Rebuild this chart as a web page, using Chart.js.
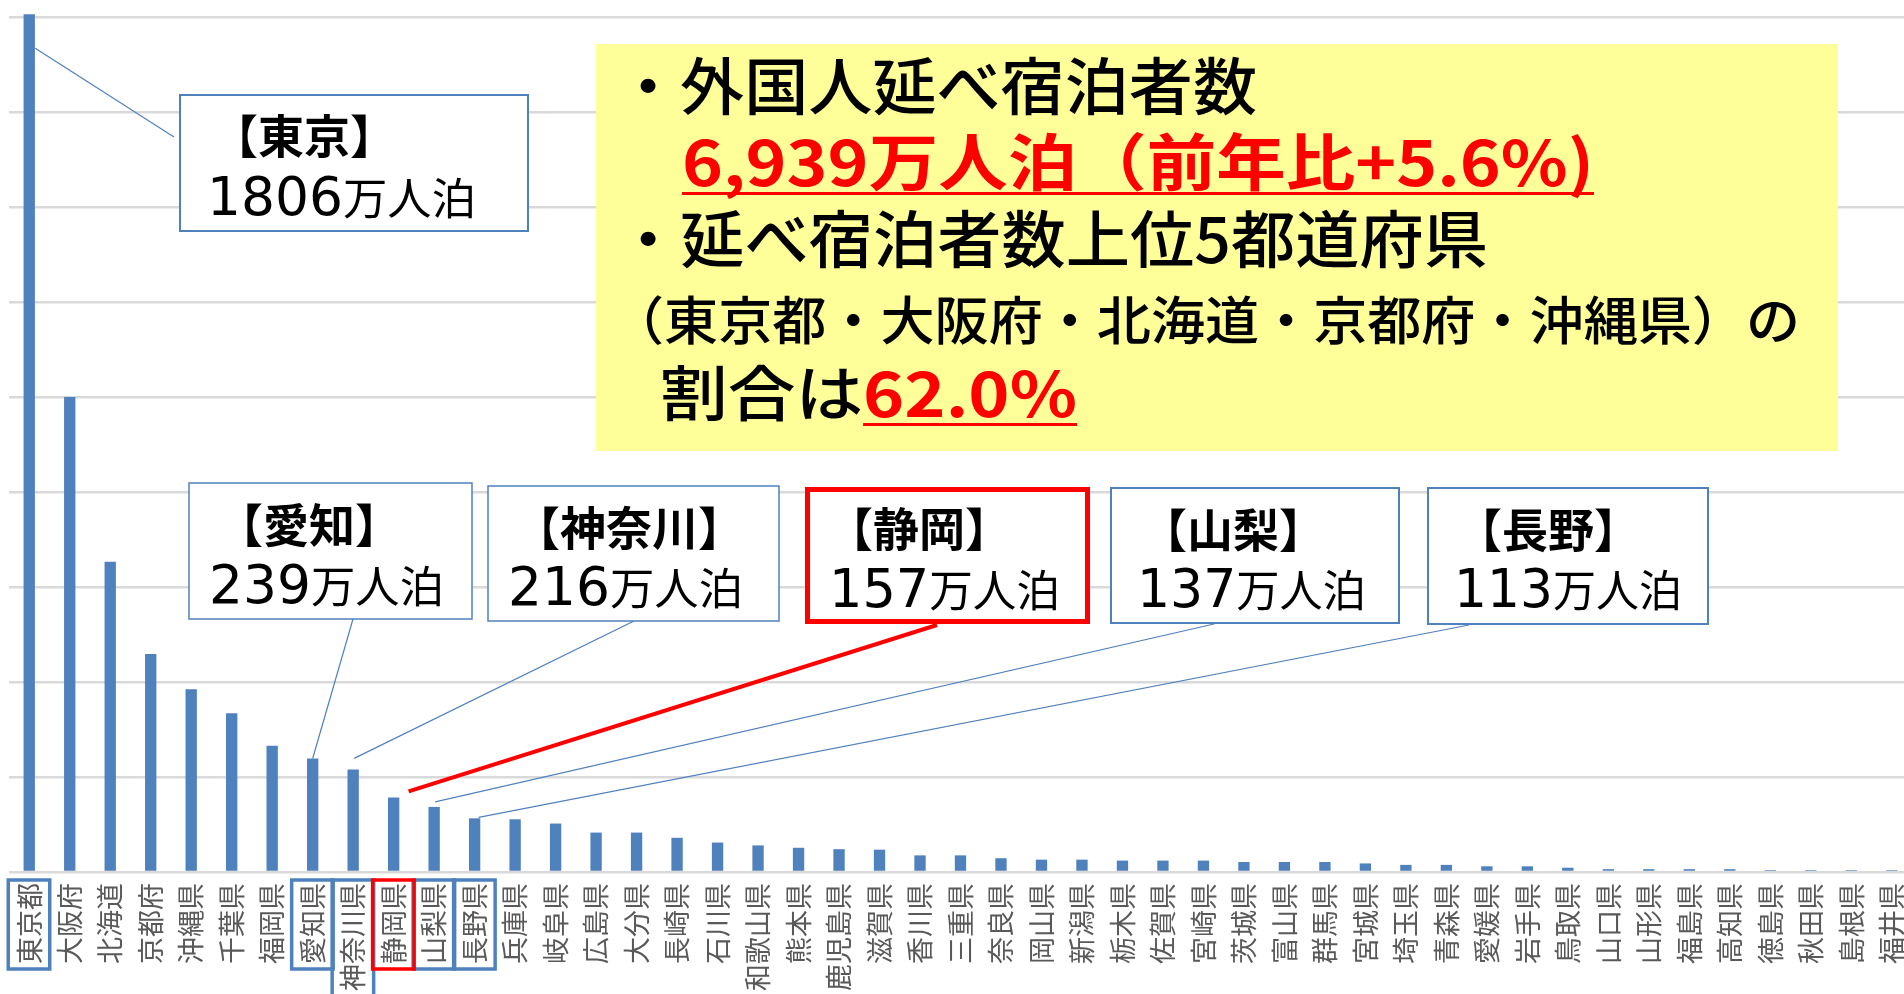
<!DOCTYPE html>
<html>
<head>
<meta charset="utf-8">
<script src="https://cdn.jsdelivr.net/npm/chart.js@4.4.1/dist/chart.umd.min.js"></script>
<style>
  html, body { margin: 0; padding: 0; background: #fff; overflow: hidden; }
  #wrap { width: 1920px; height: 994px; }
</style>
</head>
<body>
<div id="wrap"><canvas id="chart" width="1920" height="994"></canvas></div>
<script>
// 都道府県別 外国人延べ宿泊者数（万人泊）
const prefectures = [
  '東京都', '大阪府', '北海道', '京都府', '沖縄県', '千葉県', '福岡県', '愛知県', '神奈川県', '静岡県',
  '山梨県', '長野県', '兵庫県', '岐阜県', '広島県', '大分県', '長崎県', '石川県', '和歌山県', '熊本県',
  '鹿児島県', '滋賀県', '香川県', '三重県', '奈良県', '岡山県', '新潟県', '栃木県', '佐賀県', '宮崎県',
  '茨城県', '富山県', '群馬県', '宮城県', '埼玉県', '青森県', '愛媛県', '岩手県', '鳥取県', '山口県',
  '山形県', '福島県', '高知県', '徳島県', '秋田県', '島根県', '福井県'
];
const guests = [
  1806, 1000, 653, 459, 385, 334, 266, 239, 216, 157,
  137, 113, 111, 102, 83, 83, 72, 62, 56, 51,
  48, 47, 35, 35, 29, 26, 26, 24, 24, 24,
  21, 21, 21, 18, 15, 15, 12, 12, 9, 6,
  6, 6, 6, 4, 4, 4, 4
];
const yMax = 1800;
const yStep = 200;

const BLUE = '#4F81BD';
const RED = '#FF0000';
const JP = '"Noto Sans CJK JP", "Noto Sans CJK SC", sans-serif';
const labelFontSize = 27;

// 下の軸ラベルを囲む枠
const labelBoxes = [
  { idx: 0, color: BLUE }, { idx: 7, color: BLUE }, { idx: 8, color: BLUE },
  { idx: 10, color: BLUE }, { idx: 11, color: BLUE }, { idx: 9, color: RED }
];

// 吹き出し
const callouts = [
  { idx: 0, title: '【東京】', num: '1806', box: [180, 95, 348, 136], titleX: 212, titleY: 136, numX: 207, numW: 269, numBase: 215, from: [174, 137], tip: [6, 34], color: BLUE, lw: 2, leaderW: 1.2 },
  { idx: 7, title: '【愛知】', num: '239', box: [189, 483, 283, 136], titleX: 217, titleY: 525, numX: 209, numW: 235, numBase: 603, from: [353, 619], tip: [0, 0], color: BLUE, lw: 1.5, leaderW: 1.2 },
  { idx: 8, title: '【神奈川】', num: '216', box: [488, 486, 291, 135], titleX: 514, titleY: 528, numX: 508, numW: 235, numBase: 605, from: [634, 621], tip: [1, -11], color: BLUE, lw: 1.5, leaderW: 1.2 },
  { idx: 9, title: '【静岡】', num: '157', box: [807.5, 489.5, 280, 132], titleX: 827, titleY: 529, numX: 829, numW: 231, numBase: 607, from: [937, 625], tip: [15, -6], color: RED, lw: 5, leaderW: 4 },
  { idx: 10, title: '【山梨】', num: '137', box: [1111, 488, 288, 135], titleX: 1141, titleY: 530, numX: 1137, numW: 229, numBase: 607, from: [1214, 624], tip: [1, -5], color: BLUE, lw: 2, leaderW: 1.2 },
  { idx: 11, title: '【長野】', num: '113', box: [1428, 488, 280, 136], titleX: 1456, titleY: 530, numX: 1454, numW: 228, numBase: 607, from: [1469, 625], tip: [4, -1], color: BLUE, lw: 2, leaderW: 1.2 }
];

// 黄色の説明ボックス
const infoBox = { x: 596, y: 44, w: 1242, h: 407, color: '#FFFF99' };
const infoLines = [
  { segs: [{ text: '・外国人延べ宿泊者数', font: '500 62px ' + JP, color: '#000' }], x: 616, y: 86, w: 641 },
  { segs: [{ text: '6,939万人泊（前年比+5.6%)', font: 'bold 62px ' + JP, color: RED, underline: true }], x: 682, y: 162, w: 912 },
  { segs: [{ text: '・延べ宿泊者数上位5都道府県', font: '500 62px ' + JP, color: '#000' }], x: 616, y: 239, w: 872 },
  { segs: [{ text: '（東京都・大阪府・北海道・京都府・沖縄県）の', font: '500 52px ' + JP, color: '#000' }], x: 610, y: 320, w: 1190 },
  { segs: [{ text: '割合は', font: '500 60px ' + JP, color: '#000' },
           { text: '62.0%', font: 'bold 62px ' + JP, color: RED, underline: true }], x: 660, y: 393, w: 417 }
];

function drawLine(ctx, segs, x, y, width, baseline) {
  ctx.save();
  let total = 0;
  const widths = segs.map(s => {
    ctx.font = s.font;
    const w = ctx.measureText(s.text).width;
    total += w;
    return w;
  });
  const sx = width ? width / total : 1;
  ctx.translate(x, y);
  ctx.scale(sx, 1);
  ctx.textAlign = 'left';
  ctx.textBaseline = baseline || 'middle';
  let cx = 0;
  segs.forEach((s, k) => {
    ctx.font = s.font;
    ctx.fillStyle = s.color;
    ctx.fillText(s.text, cx, 0);
    if (s.underline) ctx.fillRect(cx, 30, widths[k], 3);
    cx += widths[k];
  });
  ctx.restore();
}

const overlay = {
  id: 'overlay',
  afterDraw(chart) {
    const ctx = chart.ctx;
    const xs = chart.scales.x;
    const bars = chart.getDatasetMeta(0).data;

    // 軸ラベルの枠
    ctx.save();
    ctx.font = labelFontSize + 'px ' + JP;
    labelBoxes.forEach(b => {
      const cx = xs.getPixelForTick(b.idx);
      const tw = ctx.measureText(prefectures[b.idx]).width;
      ctx.strokeStyle = b.color;
      ctx.lineWidth = 3.5;
      ctx.strokeRect(cx - 21, xs.top + 8, 41.5, tw + 8);
    });
    ctx.restore();

    // 引き出し線
    ctx.save();
    callouts.forEach(c => {
      const bar = bars[c.idx];
      ctx.beginPath();
      ctx.moveTo(c.from[0], c.from[1]);
      ctx.lineTo(bar.x + c.tip[0], bar.y + c.tip[1]);
      ctx.strokeStyle = c.color;
      ctx.lineWidth = c.leaderW;
      ctx.stroke();
    });
    ctx.restore();

    // 吹き出しの箱と文字
    callouts.forEach(c => {
      ctx.save();
      ctx.fillStyle = '#fff';
      ctx.fillRect(c.box[0], c.box[1], c.box[2], c.box[3]);
      ctx.strokeStyle = c.color;
      ctx.lineWidth = c.lw;
      ctx.strokeRect(c.box[0], c.box[1], c.box[2], c.box[3]);
      ctx.restore();
      drawLine(ctx, [{ text: c.title, font: 'bold 46px ' + JP, color: '#000' }], c.titleX, c.titleY, null, 'middle');
      drawLine(ctx, [
        { text: c.num, font: '53px "DejaVu Sans"', color: '#000' },
        { text: '万人泊', font: '44px ' + JP, color: '#000' }
      ], c.numX, c.numBase, c.numW, 'alphabetic');
    });

    // 黄色の説明
    ctx.save();
    ctx.fillStyle = infoBox.color;
    ctx.fillRect(infoBox.x, infoBox.y, infoBox.w, infoBox.h);
    ctx.restore();
    infoLines.forEach(l => drawLine(ctx, l.segs, l.x, l.y, l.w, 'middle'));
  }
};

new Chart(document.getElementById('chart').getContext('2d'), {
  type: 'bar',
  data: {
    labels: prefectures,
    datasets: [{
      data: guests,
      backgroundColor: BLUE,
      borderWidth: 0,
      barPercentage: 0.28,
      categoryPercentage: 1,
      clip: false
    }]
  },
  options: {
    responsive: false,
    animation: false,
    events: [],
    layout: { padding: { left: 9, right: 8, top: 17, bottom: 0 } },
    plugins: { legend: { display: false }, tooltip: { enabled: false } },
    scales: {
      x: {
        grid: { display: false, drawTicks: false },
        border: { display: false },
        ticks: {
          autoSkip: false,
          minRotation: 90,
          maxRotation: 90,
          padding: 11,
          color: '#595959',
          font: { family: JP, size: labelFontSize }
        },
        afterFit(scale) {
          scale.height = 122;
          scale.paddingLeft = 0;
          scale.paddingRight = 0;
        }
      },
      y: {
        min: 0,
        max: yMax,
        ticks: { display: false, stepSize: yStep },
        border: { display: false },
        grid: { color: '#D9D9D9', lineWidth: 2.5, drawTicks: false },
        afterFit(scale) {
          scale.width = 0;
          scale.paddingTop = 0;
          scale.paddingBottom = 0;
        }
      }
    }
  },
  plugins: [overlay]
});
</script>
</body>
</html>
